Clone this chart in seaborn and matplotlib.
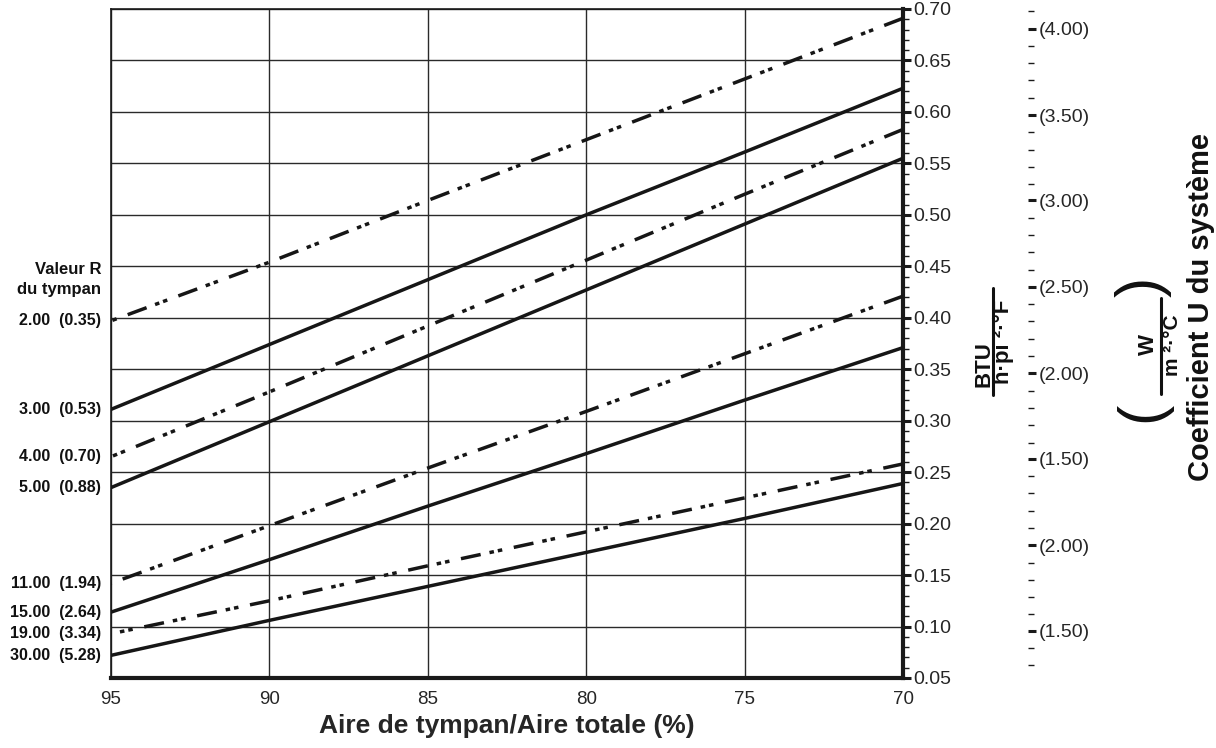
import matplotlib
matplotlib.use("Agg")
import matplotlib.pyplot as plt
import seaborn as sns
import pandas as pd
import numpy as np
from matplotlib.ticker import MultipleLocator, FixedLocator, FixedFormatter, FormatStrFormatter
from matplotlib.lines import Line2D

# ---------------- data ----------------
area = [95, 90, 85, 80, 75, 70]
u_r2 = [0.397, 0.454, 0.514, 0.573, 0.632, 0.691]
u_r3 = [0.311, 0.374, 0.437, 0.500, 0.561, 0.623]
u_r4 = [0.265, 0.328, 0.392, 0.456, 0.520, 0.583]
u_r5 = [0.235, 0.299, 0.363, 0.427, 0.491, 0.555]
u_r11 = [0.142, 0.198, 0.254, 0.309, 0.365, 0.421]
u_r15 = [0.114, 0.165, 0.217, 0.268, 0.320, 0.371]
u_r19 = [0.093, 0.125, 0.159, 0.192, 0.225, 0.258]
u_r30 = [0.072, 0.106, 0.139, 0.172, 0.205, 0.239]
r_labels = ["2.00  (0.35)", "3.00  (0.53)", "4.00  (0.70)", "5.00  (0.88)",
            "11.00  (1.94)", "15.00  (2.64)", "19.00  (3.34)", "30.00  (5.28)"]
line_kinds = ["dash", "solid", "dash", "solid", "dash", "solid", "dash", "solid"]
btu_ticks = [0.05, 0.10, 0.15, 0.20, 0.25, 0.30, 0.35, 0.40, 0.45, 0.50, 0.55, 0.60, 0.65, 0.70]
x_ticks = [95, 90, 85, 80, 75, 70]
si_tick_labels = ["(4.00)", "(3.50)", "(3.00)", "(2.50)", "(2.00)", "(1.50)", "(2.00)", "(1.50)"]
si_tick_pos = [0.681, 0.597, 0.514, 0.430, 0.346, 0.263, 0.179, 0.096]

series = [u_r2, u_r3, u_r4, u_r5, u_r11, u_r15, u_r19, u_r30]
rows = []
for lab, kind, vals in zip(r_labels, line_kinds, series):
    for a, v in zip(area, vals):
        rows.append({"area": a, "u": v, "serie": lab, "kind": kind})
df = pd.DataFrame(rows)

# ---------------- style ----------------
sns.set_style("white")
plt.rcParams["font.family"] = ["Liberation Sans", "DejaVu Sans"]
plt.rcParams["text.color"] = "#111111"

fig = plt.figure(figsize=(12.16, 7.48), dpi=100)
ax = fig.add_axes([111 / 1216, 1 - 678 / 748, 792 / 1216, 669 / 748])

dash_pat = (5.8, 3.4, 1.3, 1.15, 1.3, 2.6)
sns.lineplot(data=df, x="area", y="u", units="serie", estimator=None,
             style="kind", dashes={"solid": "", "dash": dash_pat},
             color="#161616", linewidth=2.5, legend=False, ax=ax, zorder=3)

# secondary (SI) tick scale
ax2 = ax.twinx()

ax.set_xlim(95, 70)
ax.set_ylim(0.05, 0.70)
ax.set_xticks(x_ticks)
ax.xaxis.set_minor_locator(MultipleLocator(1))
ax.set_yticks(btu_ticks)
ax.yaxis.set_minor_locator(MultipleLocator(0.01))
ax.yaxis.set_major_formatter(FormatStrFormatter("%.2f"))
ax.yaxis.tick_right()
ax.grid(True, which="major", color="#2a2a2a", linewidth=1.0)
ax.set_axisbelow(True)

for side in ["top", "left"]:
    ax.spines[side].set_linewidth(1.2)
    ax.spines[side].set_color("#1a1a1a")
for side in ["bottom", "right"]:
    ax.spines[side].set_linewidth(3.0)
    ax.spines[side].set_color("#1a1a1a")

ax.tick_params(axis="x", which="major", direction="out", length=6.5, width=2.2,
               color="#1a1a1a", labelsize=13.5, pad=3)
ax.tick_params(axis="x", which="minor", direction="out", length=5, width=1.0, color="#1a1a1a")
ax.tick_params(axis="y", which="major", direction="out", length=6, width=2.2,
               color="#1a1a1a", labelsize=14, pad=1.5, left=False, right=True,
               labelleft=False, labelright=True)
ax.tick_params(axis="y", which="minor", direction="out", length=4.5, width=1.0,
               color="#1a1a1a", left=False, right=True)
ax.set_ylabel("")
ax.set_xlabel("Aire de tympan/Aire totale (%)", fontsize=19, fontweight="bold", labelpad=4)

# R-value labels on the left
for lab, vals in zip(r_labels, series):
    ax.text(-0.0126, vals[0], lab, transform=ax.get_yaxis_transform(),
            ha="right", va="center", fontsize=11.5, fontweight="bold")
ax.text(-0.0126, 0.437, "Valeur R\ndu tympan", transform=ax.get_yaxis_transform(),
        ha="right", va="center", fontsize=12, fontweight="bold", linespacing=1.4)

ax2.set_ylim(0.05, 0.70)
for s in ax2.spines.values():
    s.set_visible(False)
ax2.spines["right"].set_position(("outward", 90))
ax2.yaxis.set_major_locator(FixedLocator(si_tick_pos))
ax2.yaxis.set_major_formatter(FixedFormatter(si_tick_labels))
step = (si_tick_pos[0] - si_tick_pos[1]) / 5
minor_pos = [p - k * step for p in si_tick_pos for k in range(1, 5)]
minor_pos = [si_tick_pos[0] + step] + [m for m in minor_pos if m > 0.055]
ax2.yaxis.set_minor_locator(FixedLocator(minor_pos))
ax2.tick_params(axis="y", which="major", direction="out", length=6, width=2.2,
                color="#1a1a1a", labelsize=14, pad=2)
ax2.tick_params(axis="y", which="minor", direction="out", length=4, width=1.0, color="#1a1a1a")

# BTU fraction label
fig.text(984 / 1216, 1 - 364 / 748, "BTU", rotation=90, ha="center", va="center",
         fontsize=16, fontweight="bold")
fig.text(1003 / 1216, 1 - 342 / 748, "h·pi ²·°F", rotation=90, ha="center", va="center",
         fontsize=16, fontweight="bold")
fig.add_artist(Line2D([993 / 1216, 993 / 1216], [1 - 395 / 748, 1 - 288 / 748],
                      transform=fig.transFigure, color="#111111", linewidth=2.2))

# SI fraction label with parentheses
fig.text(1148 / 1216, 1 - 345 / 748, "W", rotation=90, ha="center", va="center",
         fontsize=16, fontweight="bold")
fig.text(1173 / 1216, 1 - 345 / 748, "m ²·°C", rotation=90, ha="center", va="center",
         fontsize=15, fontweight="bold")
fig.add_artist(Line2D([1161 / 1216, 1161 / 1216], [1 - 394 / 748, 1 - 298 / 748],
                      transform=fig.transFigure, color="#111111", linewidth=2.2))
fig.text(1143 / 1216, 1 - 412 / 748, "(", rotation=90, ha="center", va="center",
         fontsize=44)
fig.text(1143 / 1216, 1 - 287 / 748, ")", rotation=90, ha="center", va="center",
         fontsize=44)
fig.text(1201 / 1216, 1 - 307 / 748, "Coefficient U du système", rotation=90,
         ha="center", va="center", fontsize=21, fontweight="bold")

fig.savefig("out.png", dpi=100)
